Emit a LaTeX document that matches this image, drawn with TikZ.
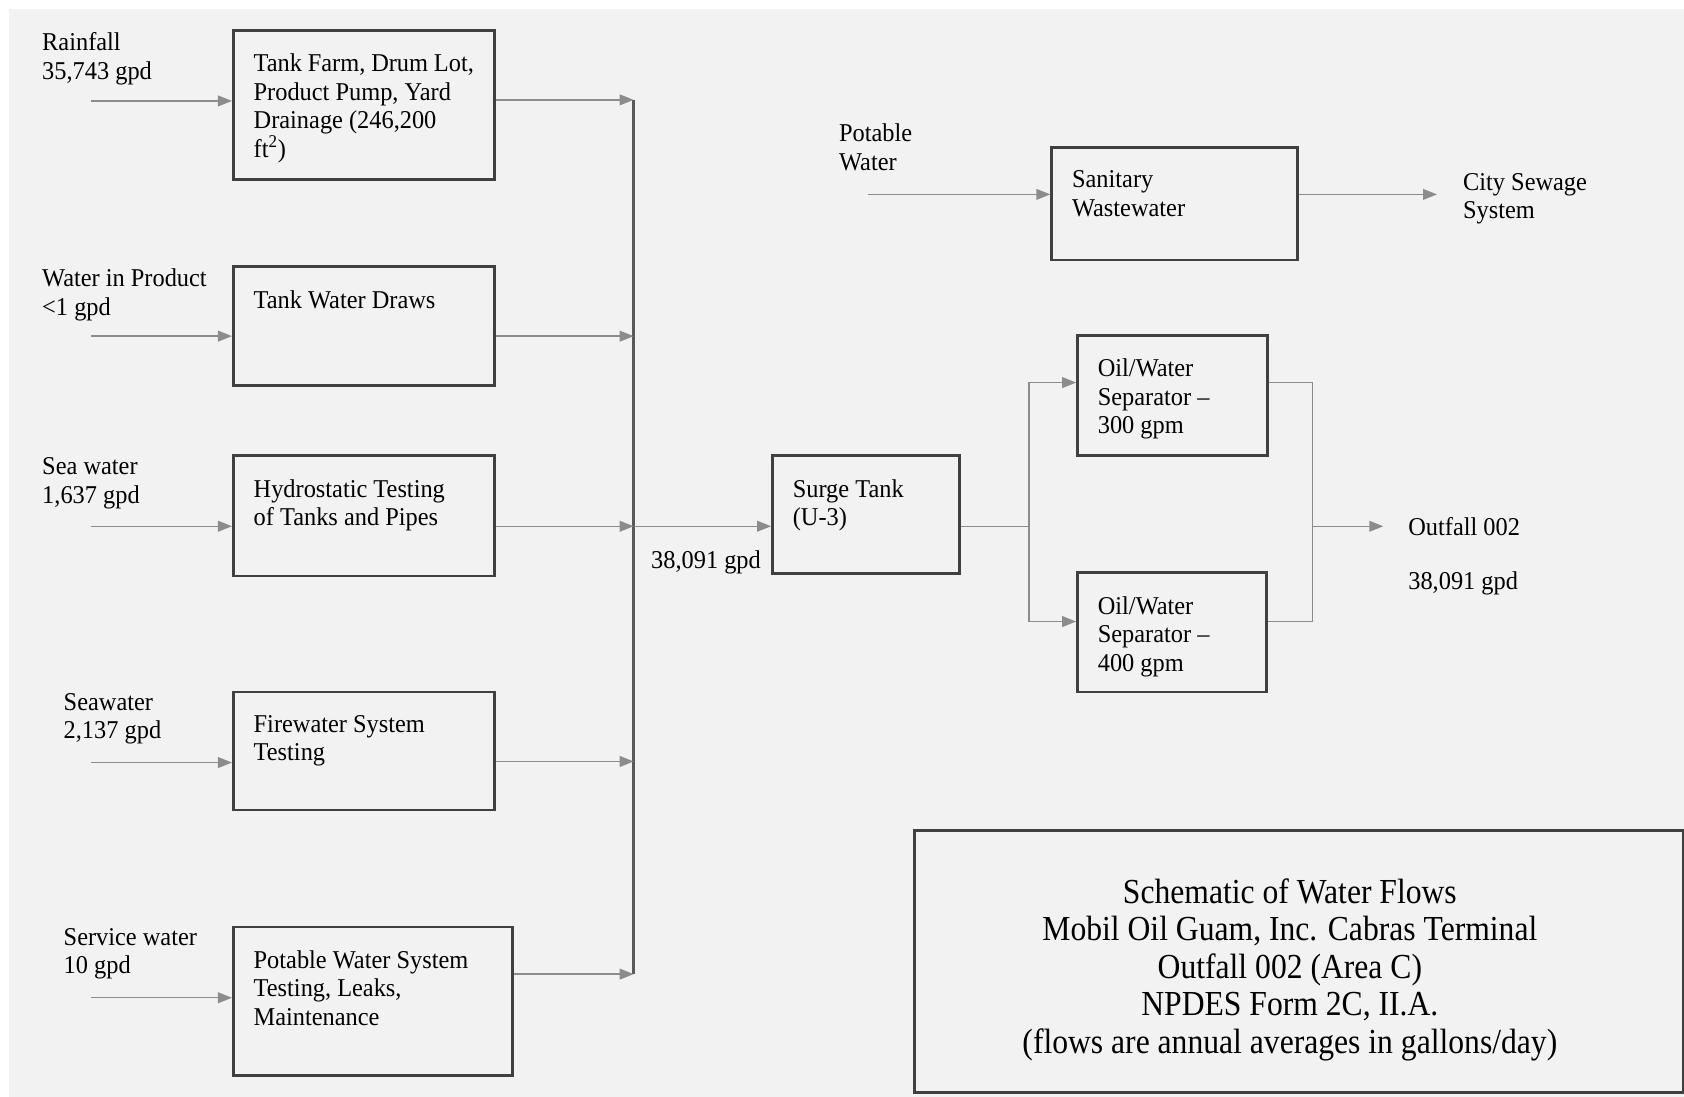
\documentclass[tikz,border=0pt]{standalone}
\usepackage{fontspec}
\setmainfont{Liberation Serif}[FakeStretch=0.95]
\newfontfamily\titlefont{Liberation Serif}[FakeStretch=0.9]
\usetikzlibrary{arrows.meta, positioning, calc}

\hfuzz=20pt
\vfuzz=20pt
\newdimen\pxu \pxu=0.021479cm
% fixed-size text block for the process boxes (width, height in px)
\newcommand{\boxtext}[3]{\begin{minipage}[t][#2\pxu][t]{#1\pxu}\raggedright #3\end{minipage}}

\begin{document}
\begin{tikzpicture}[
    x=0.021479cm, y=-0.021479cm,
    font=\fontsize{14.6}{16.2}\selectfont,
    unit/.style={draw=black!75, line width=1.5pt, anchor=north west, inner xsep=0.408cm, inner ysep=0.4725cm},
    note/.style={anchor=north west, inner sep=0pt, align=left},
    flow/.style={draw=black!45, line width=0.85pt, -{Triangle[length=0.28cm, width=0.215cm]}},
    pipe/.style={draw=black!45, line width=0.85pt},
    bus/.style={draw=black!65, line width=1.4pt}
]

% page and background
\fill[white] (0,0) rectangle (1568,1021);
\useasboundingbox (0,0) rectangle (1568,1021);
\fill[black!5] (8,8) rectangle (1568,1021);

% Sources
\node[note] (rain) at (39,30) {Rainfall\\35,743 gpd};
\node[note] (product) at (39,250) {Water in Product\\<1 gpd};
\node[note] (seaA) at (39,426) {Sea water\\1,637 gpd};
\node[note] (seaB) at (59,645) {Seawater\\2,137 gpd};
\node[note] (service) at (59,864) {Service water\\10 gpd};

% Process boxes
\node[unit] (tankfarm) at (216,27) {\boxtext{205}{95}{Tank Farm, Drum Lot,\\Product Pump, Yard\\Drainage (246,200\\ft\textsuperscript{2})}};
\node[unit] (draws) at (216,247) {\boxtext{205}{67}{Tank Water Draws}};
\node[unit] (hydro) at (216,423) {\boxtext{205}{68}{Hydrostatic Testing\\of Tanks and Pipes}};
\node[unit] (fire) at (216,643) {\boxtext{205}{66}{Firewater System\\Testing}};
\node[unit] (potable) at (216,862) {\boxtext{222}{94}{Potable Water System\\Testing, Leaks,\\Maintenance}};

% Surge tank and separators
\node[unit] (surge) at (718,423) {\boxtext{136}{66}{Surge Tank\\(U-3)}};
\node[note] (busflow) at (606,512) {38,091 gpd};
\node[unit] (ows300) at (1002,311) {\boxtext{139}{68}{Oil/Water\\Separator --\\300 gpm}};
\node[unit] (ows400) at (1002,532) {\boxtext{138}{67}{Oil/Water\\Separator --\\400 gpm}};
\node[note] (outfall) at (1311,481) {Outfall 002};
\node[note] (outflow) at (1311,532) {38,091 gpd};

% Sanitary line
\node[note] (potin) at (781,115) {Potable\\Water};
\node[unit] (sanitary) at (978,136) {\boxtext{191}{61}{Sanitary\\Wastewater}};
\node[note] (sewage) at (1362,161) {City Sewage\\System};

% Title block
\node[draw=black!75, line width=1.5pt, anchor=north west, minimum width=15.38cm, minimum height=5.24cm] (titlefrm) at (850,772) {};
\node[align=center, font=\titlefont\fontsize{20}{21.4}\selectfont] (title) at (1201,903) {Schematic of Water Flows\\Mobil Oil Guam, Inc. Cabras Terminal\\Outfall 002 (Area C)\\NPDES Form 2C, II.A.\\(flows are annual averages in gallons/day)};

% Inputs
\coordinate (rainS) at (85,94);
\coordinate (productS) at (85,313);
\coordinate (seaAS) at (85,490);
\coordinate (seaBS) at (85,710);
\coordinate (serviceS) at (85,929);
\draw[flow] (rainS) -- (tankfarm.west |- rainS);
\draw[flow] (productS) -- (draws.west |- productS);
\draw[flow] (seaAS) -- (hydro.west |- seaAS);
\draw[flow] (seaBS) -- (fire.west |- seaBS);
\draw[flow] (serviceS) -- (potable.west |- serviceS);

% Collector
\coordinate (busA) at (590,93);
\coordinate (busB) at (590,313);
\coordinate (busC) at (590,490);
\coordinate (busD) at (590,709);
\coordinate (busE) at (590,907);
\draw[bus] (busA) -- (busE);
\draw[flow] (tankfarm.east |- busA) -- (busA);
\draw[flow] (draws.east |- busB) -- (busB);
\draw[flow] (hydro.east |- busC) -- (busC);
\draw[flow] (fire.east |- busD) -- (busD);
\draw[flow] (potable.east |- busE) -- (busE);
\draw[flow] (busC) -- (surge.west |- busC);

% Separators
\coordinate (split) at (958,490);
\coordinate (merge) at (1222,490);
\draw[pipe] (surge.east |- split) -- (split);
\draw[flow] (split) |- ([yshift=0.258cm]ows300.west);
\draw[flow] (split) |- ([yshift=0.215cm]ows400.west);
\draw[pipe] ([yshift=0.258cm]ows300.east) -| (merge);
\draw[pipe] ([yshift=0.215cm]ows400.east) -| (merge);
\draw[flow, shorten >=0.494cm] (merge) -- (merge -| outfall.west);

% Sanitary
\coordinate (potS) at (808,181);
\draw[flow] (potS) -- (sanitary.west |- potS);
\draw[flow, shorten >=0.515cm] (sanitary.east |- potS) -- (potS -| sewage.west);

\end{tikzpicture}
\end{document}
